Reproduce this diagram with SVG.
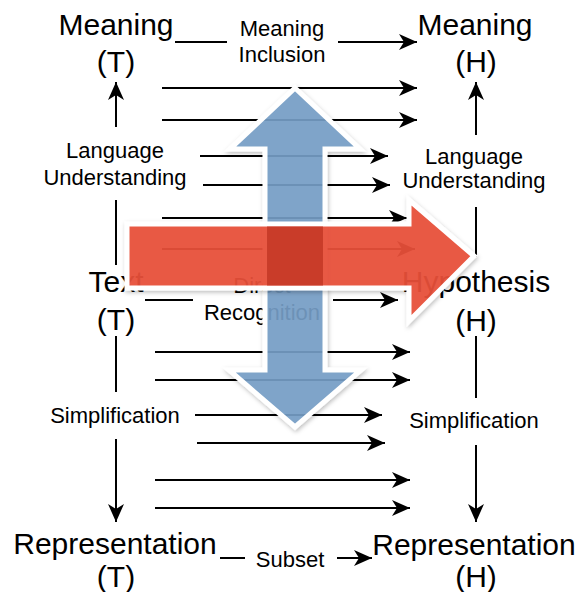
<svg xmlns="http://www.w3.org/2000/svg" width="578" height="592" viewBox="0 0 578 592">
<style>
text{font-family:"Liberation Sans",Arial,sans-serif;fill:#000;text-anchor:middle}
.big{font-size:30px}
.lab{font-size:22px}
.ln{stroke:#000;stroke-width:2;fill:none}
.ar{stroke:#000;stroke-width:2;fill:none;marker-end:url(#ah)}
</style>
<defs>
<marker id="ah" markerUnits="userSpaceOnUse" markerWidth="20" markerHeight="16" refX="18" refY="8" orient="auto" overflow="visible">
<path d="M0,0 L18,8 L0,16 L5,8 z" fill="#000"/>
</marker>
<filter id="sh" x="-20%" y="-20%" width="140%" height="140%">
<feDropShadow dx="1" dy="2" stdDeviation="2" flood-color="#000" flood-opacity="0.25"/>
</filter>
</defs>
<rect width="578" height="592" fill="#fff"/>

<g id="meaningT"><text class="big" x="116" y="35">Meaning</text><text class="big" x="116" y="72">(T)</text></g>
<g id="meaningH"><text class="big" x="475" y="35">Meaning</text><text class="big" x="476" y="72">(H)</text></g>
<g id="textT"><text class="big" x="116" y="292">Text</text><text class="big" x="116" y="330">(T)</text></g>
<g id="hypothesisH"><text class="big" x="476" y="292">Hypothesis</text><text class="big" x="476" y="331">(H)</text></g>
<g id="reprT"><text class="big" x="115" y="554">Representation</text><text class="big" x="116" y="587">(T)</text></g>
<g id="reprH"><text class="big" x="474" y="555">Representation</text><text class="big" x="476" y="587">(H)</text></g>

<g id="labels">
<text class="lab" x="282" y="36">Meaning</text><text class="lab" x="282" y="62">Inclusion</text>
<text class="lab" x="115" y="158">Language</text><text class="lab" x="115" y="185">Understanding</text>
<text class="lab" x="474" y="164">Language</text><text class="lab" x="474" y="188">Understanding</text>
<text class="lab" x="262" y="293">Direct</text><text class="lab" x="262" y="320">Recognition</text>
<text class="lab" x="115" y="423">Simplification</text>
<text class="lab" x="474" y="428">Simplification</text>
<text class="lab" x="290" y="567">Subset</text>
</g>

<g id="connectors">
<path class="ln" d="M175,42 H227"/><path class="ar" d="M338,42 H417"/>
<path class="ar" d="M162,88 H417"/>
<path class="ar" d="M162,120 H417"/>
<path class="ar" d="M200,156 H388"/>
<path class="ar" d="M203,185 H390"/>
<path class="ar" d="M162,218 H407"/>
<path class="ar" d="M162,249 H415"/>
<path class="ln" d="M145,300 H193"/><path class="ar" d="M333,300 H398"/>
<path class="ar" d="M155,352 H410"/>
<path class="ar" d="M155,380 H410"/>
<path class="ar" d="M195,415 H382"/>
<path class="ar" d="M197,443 H385"/>
<path class="ar" d="M155,480 H410"/>
<path class="ar" d="M155,508 H410"/>
<path class="ln" d="M220,558 H245"/><path class="ar" d="M337,558 H372"/>
<path class="ar" d="M116,127 V82"/>
<path class="ln" d="M116,200 V265"/>
<path class="ln" d="M116,336 V392"/>
<path class="ar" d="M116,439 V522"/>
<path class="ar" d="M476,135 V82"/>
<path class="ln" d="M476,207 V257"/>
<path class="ln" d="M476,336 V398"/>
<path class="ar" d="M476,445 V522"/>
</g>

<g id="bigArrows">
<path filter="url(#sh)" d="M295,88 L360,149 L325,149 L325,370 L361,370 L295,427 L229,370 L265,370 L265,149 L230,149 Z" fill="#779fc6" fill-opacity="0.9" stroke="#fff" stroke-width="5" stroke-linejoin="miter"/>
<path filter="url(#sh)" d="M127,224 L409,224 L409,200 L474,256 L409,321 L409,288 L127,288 Z" fill="#e8503a" fill-opacity="0.93" stroke="#fff" stroke-width="5" stroke-linejoin="miter"/>
<rect x="267" y="226.5" width="56" height="59" fill="#c43826" fill-opacity="0.85"/>
</g>
</svg>
